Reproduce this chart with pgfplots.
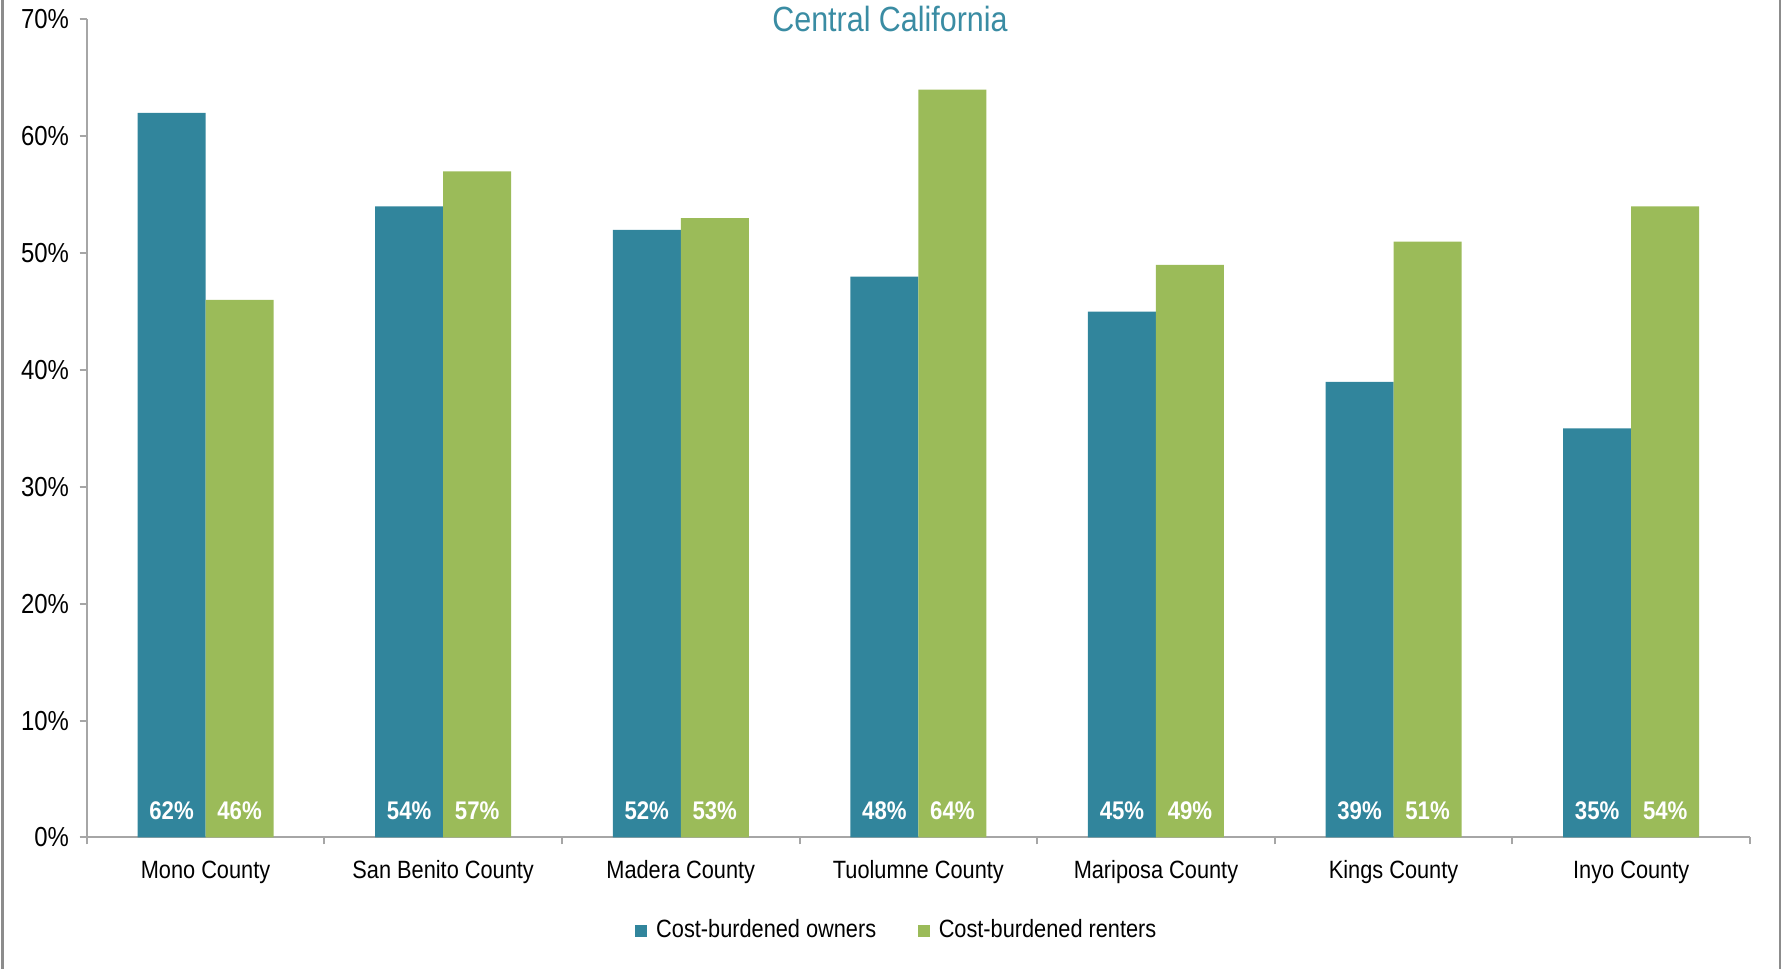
\documentclass[border=0pt]{standalone}
\usepackage{fontspec}
\setmainfont{Liberation Sans}[FakeStretch=0.87]
\usepackage{pgfplots}
\pgfplotsset{compat=1.18}
\definecolor{owners}{HTML}{31859C}
\definecolor{renters}{HTML}{9BBB59}
\definecolor{titleteal}{HTML}{3A8CA3}
\definecolor{axisgray}{HTML}{A6A6A6}
\definecolor{framegray}{HTML}{8C8C8C}
\begin{document}
\begin{tikzpicture}
\path[use as bounding box] (-34.7pt,-52.6pt) rectangle (680.9pt,335pt);
\begin{axis}[
  at={(0,0)}, anchor=south west,
  width=665.3pt, height=327.2pt, scale only axis,
  xmin=-0.5, xmax=6.5, ymin=0, ymax=70,
  axis x line*=bottom, axis y line*=left,
  axis line style={axisgray, line width=0.8pt},
  every tick/.style={axisgray, line width=0.8pt},
  tick align=outside,
  major tick length=2.8pt,
  /pgf/number format/assume math mode=true,
  ytick={0,10,...,70},
  yticklabel={\pgfmathprintnumber{\tick}\%},
  yticklabel style={font=\fontsize{11}{12}\selectfont, xshift=-0.8pt, text=black},
  xtick={-0.5,0.5,...,6.5},
  xticklabels={},
  extra x ticks={0,1,2,3,4,5,6},
  extra x tick labels={Mono County, San Benito County, Madera County, Tuolumne County, Mariposa County, Kings County, Inyo County},
  extra x tick style={major tick length=0pt, xticklabel style={font=\fontsize{10}{12}\selectfont, text=black, yshift=-5.8pt}},
  legend style={at={(0.488,-0.114)}, anchor=center, draw=none, legend columns=2,
    font=\fontsize{10}{12}\selectfont,
    /tikz/every odd column/.append style={column sep=1.5pt},
    /tikz/every even column/.append style={column sep=14.7pt}},
  legend image code/.code={\fill[#1] (0pt,-2.4pt) rectangle (4.8pt,2.4pt);},
]
\addplot[ybar, bar width=27.2pt, bar shift=-13.6pt, fill=owners, draw=none]
  coordinates {(0,62) (1,54) (2,52) (3,48) (4,45) (5,39) (6,35)};
\addlegendentry{Cost-burdened owners}
\addplot[ybar, bar width=27.2pt, bar shift=13.6pt, fill=renters, draw=none]
  coordinates {(0,46) (1,57) (2,53) (3,64) (4,49) (5,51) (6,54)};
\addlegendentry{Cost-burdened renters}
\addplot[forget plot, draw=none, mark=none, point meta=explicit,
  nodes near coords={\pgfmathprintnumber{\pgfplotspointmeta}\%},
  nodes near coords style={text=white, font=\bfseries\fontsize{10.2}{12}\selectfont, anchor=center, xshift=-13.6pt, yshift=10.6pt}]
  coordinates {(0,0)[62] (1,0)[54] (2,0)[52] (3,0)[48] (4,0)[45] (5,0)[39] (6,0)[35]};
\addplot[forget plot, draw=none, mark=none, point meta=explicit,
  nodes near coords={\pgfmathprintnumber{\pgfplotspointmeta}\%},
  nodes near coords style={text=white, font=\bfseries\fontsize{10.2}{12}\selectfont, anchor=center, xshift=13.6pt, yshift=10.6pt}]
  coordinates {(0,0)[46] (1,0)[57] (2,0)[53] (3,0)[64] (4,0)[49] (5,0)[51] (6,0)[54]};
\end{axis}
\node[font=\fontsize{14}{16}\selectfont, text=titleteal] at (321.3pt,327.2pt) {Central California};
\draw[framegray, line width=1pt] (-33.6pt,-52.6pt) -- (-33.6pt,335pt);
\draw[framegray, line width=1pt] (677.3pt,-52.6pt) -- (677.3pt,335pt);
\end{tikzpicture}
\end{document}
